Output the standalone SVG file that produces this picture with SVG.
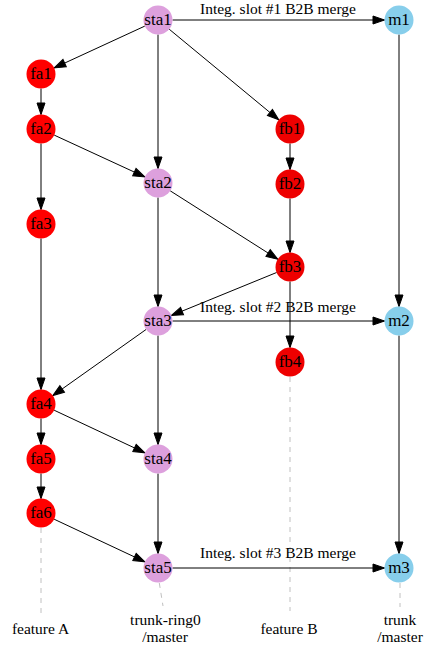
<svg xmlns="http://www.w3.org/2000/svg" width="434" height="659" viewBox="0 0 434 659">
  <style>
    text { font-family: "Liberation Serif", "Times New Roman", serif; font-size: 15.5px; fill: #000; text-anchor: middle; }
    .n text { font-size: 17px; }
    .n circle { stroke: none; }
    .sta circle { fill: #dda0dd; }
    .m circle { fill: #87ceeb; }
    .fa circle { fill: #ff0000; }
    .fb circle { fill: #ee0000; }
    .e line { stroke: #000; stroke-width: 1; marker-end: url(#arrow); }
    .d line { stroke: #c0c0c0; stroke-width: 1; stroke-dasharray: 5 5; }
  </style>
  <defs>
    <marker id="arrow" markerUnits="userSpaceOnUse" markerWidth="14" markerHeight="10" refX="12" refY="4" orient="auto" overflow="visible">
      <path d="M0.5,0 L12,4 L0.5,8 Z" fill="#000" stroke="#000" stroke-width="1" stroke-linejoin="miter"/>
    </marker>
  </defs>
  <rect width="434" height="659" fill="#fff"/>

  <!-- branch tails down to their labels -->
  <g id="tails" class="d">
    <line x1="41" y1="528" x2="41" y2="616"/>
    <line x1="159.3" y1="583" x2="163" y2="606"/>
    <line x1="290" y1="377" x2="290" y2="611"/>
    <line x1="400" y1="583" x2="400" y2="607"/>
  </g>

  <g id="edges" class="e">
    <line x1="172.5" y1="20" x2="384.5" y2="20"/>
    <line x1="144.8" y1="26.1" x2="54.2" y2="67.9"/>
    <line x1="158" y1="34.5" x2="158" y2="168.5"/>
    <line x1="169.2" y1="29.2" x2="278.8" y2="119.8"/>
    <line x1="41" y1="88.5" x2="41" y2="114.5"/>
    <line x1="54.2" y1="135.1" x2="144.8" y2="176.9"/>
    <line x1="41" y1="143.5" x2="41" y2="209.5"/>
    <line x1="290" y1="143.5" x2="290" y2="169.5"/>
    <line x1="290" y1="198.5" x2="290" y2="252.5"/>
    <line x1="158" y1="197.5" x2="158" y2="306.5"/>
    <line x1="170.2" y1="190.8" x2="277.8" y2="259.2"/>
    <line x1="399" y1="34.5" x2="399" y2="306.5"/>
    <line x1="276.6" y1="272.5" x2="171.4" y2="315.5"/>
    <line x1="290" y1="281.5" x2="290" y2="347.5"/>
    <line x1="172.5" y1="321" x2="384.5" y2="321"/>
    <line x1="146.2" y1="329.4" x2="52.8" y2="395.6"/>
    <line x1="158" y1="335.5" x2="158" y2="444.5"/>
    <line x1="41" y1="238.5" x2="41" y2="389.5"/>
    <line x1="41" y1="418.5" x2="41" y2="444.5"/>
    <line x1="54.1" y1="410.2" x2="144.9" y2="452.8"/>
    <line x1="41" y1="473.5" x2="41" y2="498.5"/>
    <line x1="158" y1="473.5" x2="158" y2="553.5"/>
    <line x1="54.1" y1="519.2" x2="144.9" y2="561.8"/>
    <line x1="172.5" y1="568" x2="384.5" y2="568"/>
    <line x1="399" y1="335.5" x2="399" y2="553.5"/>
  </g>

  <g id="edge-labels">
    <text x="278" y="14">Integ. slot #1 B2B merge</text>
    <text x="278" y="312">Integ. slot #2 B2B merge</text>
    <text x="278" y="558">Integ. slot #3 B2B merge</text>
  </g>

  <g id="sta1" class="n sta"><circle cx="158" cy="20" r="14.5"/><text x="158" y="25">sta1</text></g>
  <g id="sta2" class="n sta"><circle cx="158" cy="183" r="14.5"/><text x="158" y="188">sta2</text></g>
  <g id="sta3" class="n sta"><circle cx="158" cy="321" r="14.5"/><text x="158" y="326">sta3</text></g>
  <g id="sta4" class="n sta"><circle cx="158" cy="459" r="14.5"/><text x="158" y="464">sta4</text></g>
  <g id="sta5" class="n sta"><circle cx="158" cy="568" r="14.5"/><text x="158" y="573">sta5</text></g>

  <g id="m1" class="n m"><circle cx="399" cy="20" r="14.5"/><text x="399" y="25">m1</text></g>
  <g id="m2" class="n m"><circle cx="399" cy="321" r="14.5"/><text x="399" y="326">m2</text></g>
  <g id="m3" class="n m"><circle cx="399" cy="568" r="14.5"/><text x="399" y="573">m3</text></g>

  <g id="fa1" class="n fa"><circle cx="41" cy="74" r="14.5"/><text x="41" y="79">fa1</text></g>
  <g id="fa2" class="n fa"><circle cx="41" cy="129" r="14.5"/><text x="41" y="134">fa2</text></g>
  <g id="fa3" class="n fa"><circle cx="41" cy="224" r="14.5"/><text x="41" y="229">fa3</text></g>
  <g id="fa4" class="n fa"><circle cx="41" cy="404" r="14.5"/><text x="41" y="409">fa4</text></g>
  <g id="fa5" class="n fa"><circle cx="41" cy="459" r="14.5"/><text x="41" y="464">fa5</text></g>
  <g id="fa6" class="n fa"><circle cx="41" cy="513" r="14.5"/><text x="41" y="518">fa6</text></g>

  <g id="fb1" class="n fb"><circle cx="290" cy="129" r="14.5"/><text x="290" y="134">fb1</text></g>
  <g id="fb2" class="n fb"><circle cx="290" cy="184" r="14.5"/><text x="290" y="189">fb2</text></g>
  <g id="fb3" class="n fb"><circle cx="290" cy="267" r="14.5"/><text x="290" y="272">fb3</text></g>
  <g id="fb4" class="n fb"><circle cx="290" cy="362" r="14.5"/><text x="290" y="367">fb4</text></g>

  <g id="branch-labels">
    <text x="40.5" y="634">feature A</text>
    <text x="165.4" y="625">trunk-ring0</text>
    <text x="165" y="641.5">/master</text>
    <text x="289" y="634">feature B</text>
    <text x="400" y="625">trunk</text>
    <text x="400" y="641.5">/master</text>
  </g>
</svg>
